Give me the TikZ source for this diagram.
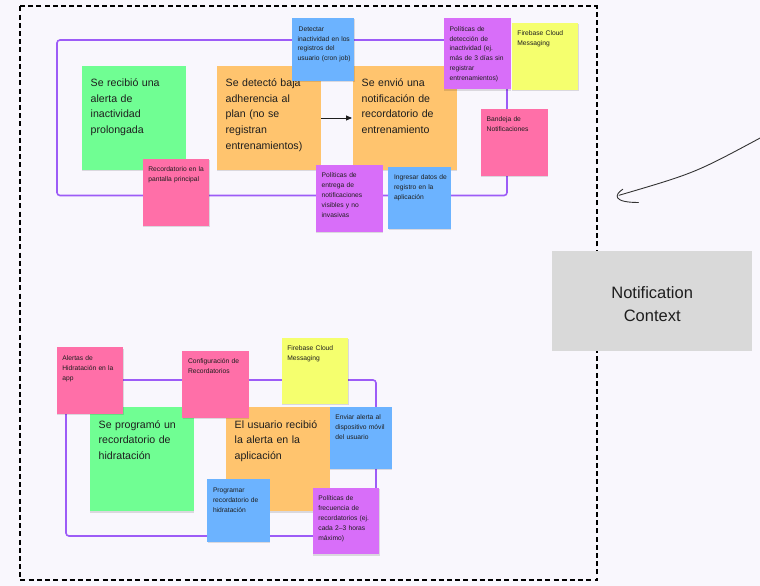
\documentclass[tikz,border=0pt]{standalone}
\usepackage{fontspec}
\setmainfont{Liberation Sans}
\usetikzlibrary{arrows.meta,shadows}
\definecolor{canvas}{HTML}{F9F7FD}
\definecolor{ink}{HTML}{1E1E1E}
\definecolor{framePurple}{HTML}{9D5CF7}
\definecolor{noteGreen}{HTML}{70FE93}
\definecolor{noteOrange}{HTML}{FFC46E}
\definecolor{noteBlue}{HTML}{6CB3FF}
\definecolor{notePurple}{HTML}{D86EF9}
\definecolor{notePink}{HTML}{FF6FA8}
\definecolor{noteYellow}{HTML}{F5FF6E}
\definecolor{contextGray}{HTML}{D9D9D9}
\definecolor{pointerGray}{HTML}{333333}
\tikzset{
sticky/.style={fill=#1, anchor=north west, inner sep=0pt, outer sep=0pt,
  drop shadow={shadow xshift=0.3pt, shadow yshift=-1.2pt, opacity=0.12, fill=black}},
big sticky/.style={sticky=#1, minimum width=104pt, minimum height=104pt},
small sticky/.style={sticky=#1, minimum width=66.6pt, minimum height=66.6pt},
task sticky/.style={sticky=noteBlue, minimum width=62.3pt, minimum height=62.3pt},
bigtext/.style={anchor=north west, inner xsep=8.5pt, inner ysep=10.5pt, text width=90pt,
  align=left, text=ink, font=\fontsize{10.6}{15.6}\selectfont,
  execute at begin node={\rule{0pt}{10pt}}},
smalltext/.style={anchor=north west, inner xsep=5.5pt, inner ysep=6.3pt, text width=60pt,
  align=left, text=ink, font=\fontsize{6.7}{9.9}\selectfont,
  execute at begin node={\rule{0pt}{6.4pt}}},
frame/.style={draw=framePurple, line width=1.6pt, rounded corners=3pt},
boundary/.style={draw=black, line width=2pt, dash pattern=on 5pt off 3.2pt},
flow/.style={draw=ink, line width=0.9pt, -{Triangle[length=6pt,width=5pt]}, shorten >=1pt},
pointer/.style={draw=pointerGray, line width=0.9pt, line cap=round},
ctxbox/.style={fill=contextGray, anchor=north west, minimum width=200pt, minimum height=100pt,
  inner sep=0pt, text width=200pt, align=center, text=ink, font=\fontsize{16.5}{23}\selectfont,
  execute at begin node={\rule{0pt}{18pt}}},
}

\begin{document}
\begin{tikzpicture}[x=1pt,y=-1pt]

    \useasboundingbox (0,0) rectangle (760,586);
    \fill[canvas] (0,0) rectangle (760,586);

    % Context boundary
    \draw[boundary] (20,6.5) rectangle (597,580);

    % Frames
    \draw[frame] (57,40) rectangle (507,195.5);
    \draw[frame] (66,380) rectangle (376,536);

    % Top flow (inactivity)
    \node[big sticky=noteGreen] (inactivityAlert) at (82,66) {};
    \node[bigtext] (inactivityAlertTxt) at (inactivityAlert.north west)
    {Se recibió una\\alerta de\\inactividad\\prolongada};
    \node[big sticky=noteOrange] (lowAdherence) at (217,66) {};
    \node[bigtext] (lowAdherenceTxt) at (lowAdherence.north west)
    {Se detectó baja\\adherencia al\\plan (no se\\registran\\entrenamientos)};
    \node[big sticky=noteOrange] (reminderSent) at (353,66) {};
    \node[bigtext] (reminderSentTxt) at (reminderSent.north west)
    {Se envió una\\notificación de\\recordatorio de\\entrenamiento};
    \draw[flow] (lowAdherence) -- (reminderSent);

    \node[task sticky] (cronJob) at (292,18.3) {};
    \node[smalltext] (cronJobTxt) at (cronJob.north west)
    {\hspace*{1pt}Detectar\\inactividad en los\\registros del\\usuario (cron job)};
    \node[sticky=notePurple, minimum width=67pt, minimum height=71pt] (detectPolicy) at (444,18.3) {};
    \node[smalltext] (detectPolicyTxt) at (detectPolicy.north west)
    {Políticas de\\detección de\\inactividad (ej.\\más de 3 días sin\\registrar\\entrenamientos)};
    \node[small sticky=noteYellow] (fcmTop) at (511.7,23) {};
    \node[smalltext] (fcmTopTxt) at (fcmTop.north west) {Firebase Cloud\\Messaging};
    \node[small sticky=notePink] (inbox) at (481,109) {};
    \node[smalltext] (inboxTxt) at (inbox.north west) {Bandeja de\\Notificaciones};
    \node[small sticky=notePink] (homeReminder) at (142.7,159) {};
    \node[smalltext] (homeReminderTxt) at (homeReminder.north west)
    {Recordatorio en la\\pantalla principal};
    \node[small sticky=notePurple] (deliveryPolicy) at (316,165) {};
    \node[smalltext] (deliveryPolicyTxt) at (deliveryPolicy.north west)
    {Políticas de\\entrega de\\notificaciones\\visibles y no\\invasivas};
    \node[task sticky] (logData) at (388.3,166.7) {};
    \node[smalltext] (logDataTxt) at (logData.north west)
    {Ingresar datos de\\registro en la\\aplicación};

    % Bottom flow (hydration)
    \node[big sticky=noteGreen] (hydroScheduled) at (90,407.3) {};
    \node[bigtext] (hydroScheduledTxt) at (hydroScheduled.north west)
    {Se programó un\\recordatorio de\\hidratación};
    \node[big sticky=noteOrange] (alertReceived) at (226,407.3) {};
    \node[bigtext] (alertReceivedTxt) at (alertReceived.north west)
    {El usuario recibió\\la alerta en la\\aplicación};

    \node[small sticky=notePink] (hydroAlerts) at (56.7,347.3) {};
    \node[smalltext] (hydroAlertsTxt) at (hydroAlerts.north west)
    {Alertas de\\Hidratación en la\\app};
    \node[small sticky=notePink] (reminderCfg) at (182.3,351) {};
    \node[smalltext] (reminderCfgTxt) at (reminderCfg.north west)
    {Configuración de\\Recordatorios};
    \node[small sticky=noteYellow] (fcmBottom) at (281.7,337.5) {};
    \node[smalltext] (fcmBottomTxt) at (fcmBottom.north west) {Firebase Cloud\\Messaging};
    \node[task sticky] (sendAlert) at (329.7,406.7) {};
    \node[smalltext] (sendAlertTxt) at (sendAlert.north west)
    {Enviar alerta al\\dispositivo móvil\\del usuario};
    \node[task sticky] (scheduleReminder) at (207.3,479.3) {};
    \node[smalltext] (scheduleReminderTxt) at (scheduleReminder.north west)
    {Programar\\recordatorio de\\hidratación};
    \node[small sticky=notePurple] (frequencyPolicy) at (312.7,487.7) {};
    \node[smalltext] (frequencyPolicyTxt) at (frequencyPolicy.north west)
    {Políticas de\\frecuencia de\\recordatorios (ej.\\cada 2–3 horas\\máximo)};

    % Context label
    \node[ctxbox] (context) at (552,251) {Notification\\Context};

    % Hand-drawn pointer
    \coordinate (pointerStart) at (762,137);
    \coordinate (pointerTip) at (619,195.3);
    \coordinate (hookTop) at (622.7,189.3);
    \coordinate (hookEnd) at (638.5,202.5);
    \draw[pointer] (pointerStart) .. controls (695,173) .. (pointerTip);
    \draw[pointer] (hookTop) .. controls (614,195) and (613,202.5) .. (hookEnd);

\end{tikzpicture}
\end{document}
